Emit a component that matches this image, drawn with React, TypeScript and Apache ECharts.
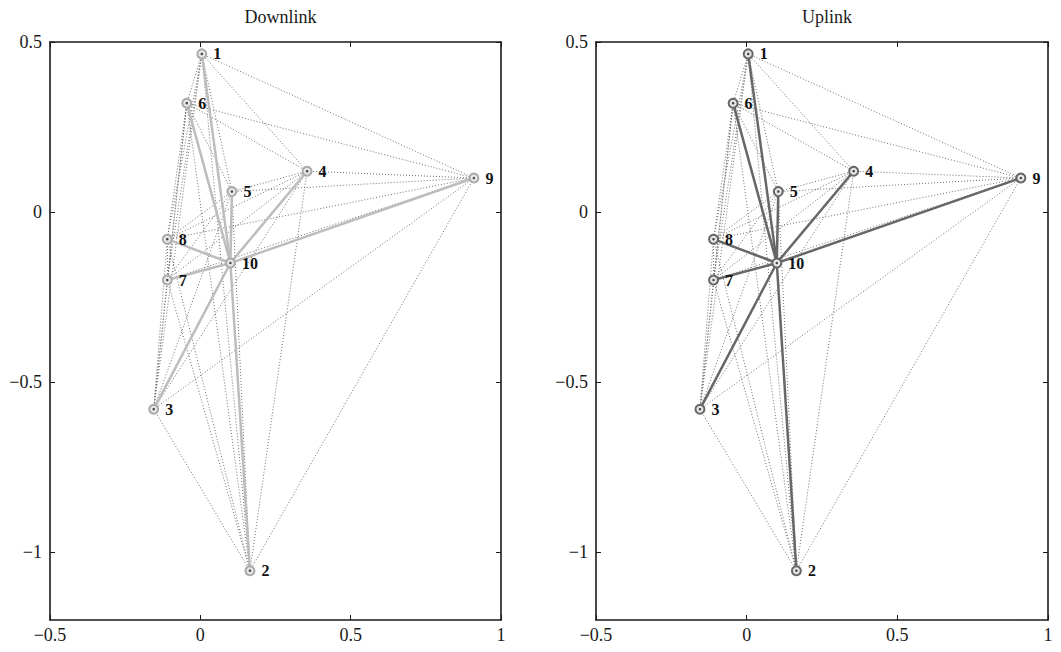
import React, { useEffect, useRef } from "react";
import * as echarts from "echarts";

const nodeNames = ["1", "2", "3", "4", "5", "6", "7", "8", "9", "10"];
const nodeX = [0.005, 0.165, -0.155, 0.355, 0.105, -0.045, -0.11, -0.11, 0.91, 0.1];
const nodeY = [0.465, -1.055, -0.58, 0.12, 0.06, 0.32, -0.2, -0.08, 0.1, -0.15];
const hubIndex = 9;
const panelTitles = ["Downlink", "Uplink"];
const xTicks = [-0.5, 0, 0.5, 1];
const yTicks = [-1, -0.5, 0, 0.5];

const FONT = "'Liberation Serif', 'DejaVu Serif', serif";

const fmt = (v: number) => {
  const s = String(Math.round(v * 100) / 100);
  return s.replace("-", "\u2212");
};

export default function App() {
  const ref = useRef<HTMLDivElement>(null);
  useEffect(() => {
    document.body.style.margin = "0";
    if (!ref.current) return;
    const chart = echarts.init(ref.current, undefined, { renderer: "svg" });

    const pts = nodeNames.map((n, i) => [nodeX[i], nodeY[i]]);
    const allPairs: any[] = [];
    for (let i = 0; i < pts.length; i++)
      for (let j = i + 1; j < pts.length; j++) allPairs.push({ coords: [pts[i], pts[j]] });
    const star: any[] = [];
    for (let i = 0; i < pts.length; i++)
      if (i !== hubIndex) star.push({ coords: [pts[hubIndex], pts[i]] });

    const grids = [
      { left: 50, width: 451, top: 42, height: 578 },
      { left: 596, width: 452, top: 42, height: 578 },
    ];
    const solidColors = ["#bdbdbd", "#676767"];
    const ringColors = ["#aaaaaa", "#666666"];

    const axisLine = { show: true, onZero: false, lineStyle: { color: "#1a1a1a", width: 1.6 } };
    const tick = { show: true, inside: true, length: 5, lineStyle: { color: "#1a1a1a", width: 1 } };
    const labelStyle = { fontFamily: FONT, fontSize: 18, color: "#1a1a1a" };

    const xAxis: any[] = [];
    const yAxis: any[] = [];
    const series: any[] = [];
    const title: any[] = [];

    grids.forEach((g, k) => {
      title.push({
        text: panelTitles[k],
        left: g.left + g.width / 2,
        top: 3,
        textAlign: "center",
        textStyle: { fontFamily: FONT, fontSize: 18, fontWeight: "normal", color: "#1a1a1a" },
      });
      xAxis.push({
        type: "value", gridIndex: k, position: "bottom", min: -0.5, max: 1, interval: 0.5,
        axisLine, axisTick: tick, splitLine: { show: false },
        axisLabel: { ...labelStyle, margin: 6, formatter: fmt },
      });
      xAxis.push({
        type: "value", gridIndex: k, position: "top", min: -0.5, max: 1, interval: 0.5,
        axisLine, axisTick: tick, splitLine: { show: false }, axisLabel: { show: false },
      });
      yAxis.push({
        type: "value", gridIndex: k, position: "left", min: -1.2, max: 0.5,
        axisLine, axisTick: { ...tick, customValues: yTicks }, splitLine: { show: false },
        axisLabel: { ...labelStyle, margin: 8, formatter: fmt, customValues: yTicks },
      });
      yAxis.push({
        type: "value", gridIndex: k, position: "right", min: -1.2, max: 0.5,
        axisLine, axisTick: { ...tick, customValues: yTicks }, splitLine: { show: false },
        axisLabel: { show: false, customValues: yTicks },
      });
      const xi = 2 * k;
      const yi = 2 * k;
      series.push({
        type: "lines", coordinateSystem: "cartesian2d", xAxisIndex: xi, yAxisIndex: yi,
        data: allPairs, silent: true,
        lineStyle: { color: "#707070", width: 1, type: [1, 2], opacity: 1 },
        z: 1,
      });
      series.push({
        type: "lines", coordinateSystem: "cartesian2d", xAxisIndex: xi, yAxisIndex: yi,
        data: star, silent: true,
        lineStyle: { color: solidColors[k], width: 2.5, type: "solid", opacity: 1 },
        z: 2,
      });
      series.push({
        type: "scatter", xAxisIndex: xi, yAxisIndex: yi,
        data: nodeNames.map((n, i) => ({ name: n, value: pts[i] })),
        symbol: "circle", symbolSize: 9,
        itemStyle: { color: "#e6e6e6", borderColor: ringColors[k], borderWidth: 2, opacity: 1 },
        label: {
          show: true, position: "right", distance: 6, formatter: "{b}",
          fontFamily: FONT, fontSize: 16, fontWeight: "bold", color: "#111",
        },
        z: 3,
      });
      series.push({
        type: "scatter", xAxisIndex: xi, yAxisIndex: yi,
        data: pts, symbol: "circle", symbolSize: 2.5,
        itemStyle: { color: "#444", opacity: 1 }, silent: true, z: 4,
      });
    });

    chart.setOption({
      animation: false,
      backgroundColor: "#ffffff",
      title,
      grid: grids,
      xAxis,
      yAxis,
      series,
    });
    return () => chart.dispose();
  }, []);
  return <div ref={ref} style={{ width: 1061, height: 652 }} />;
}
